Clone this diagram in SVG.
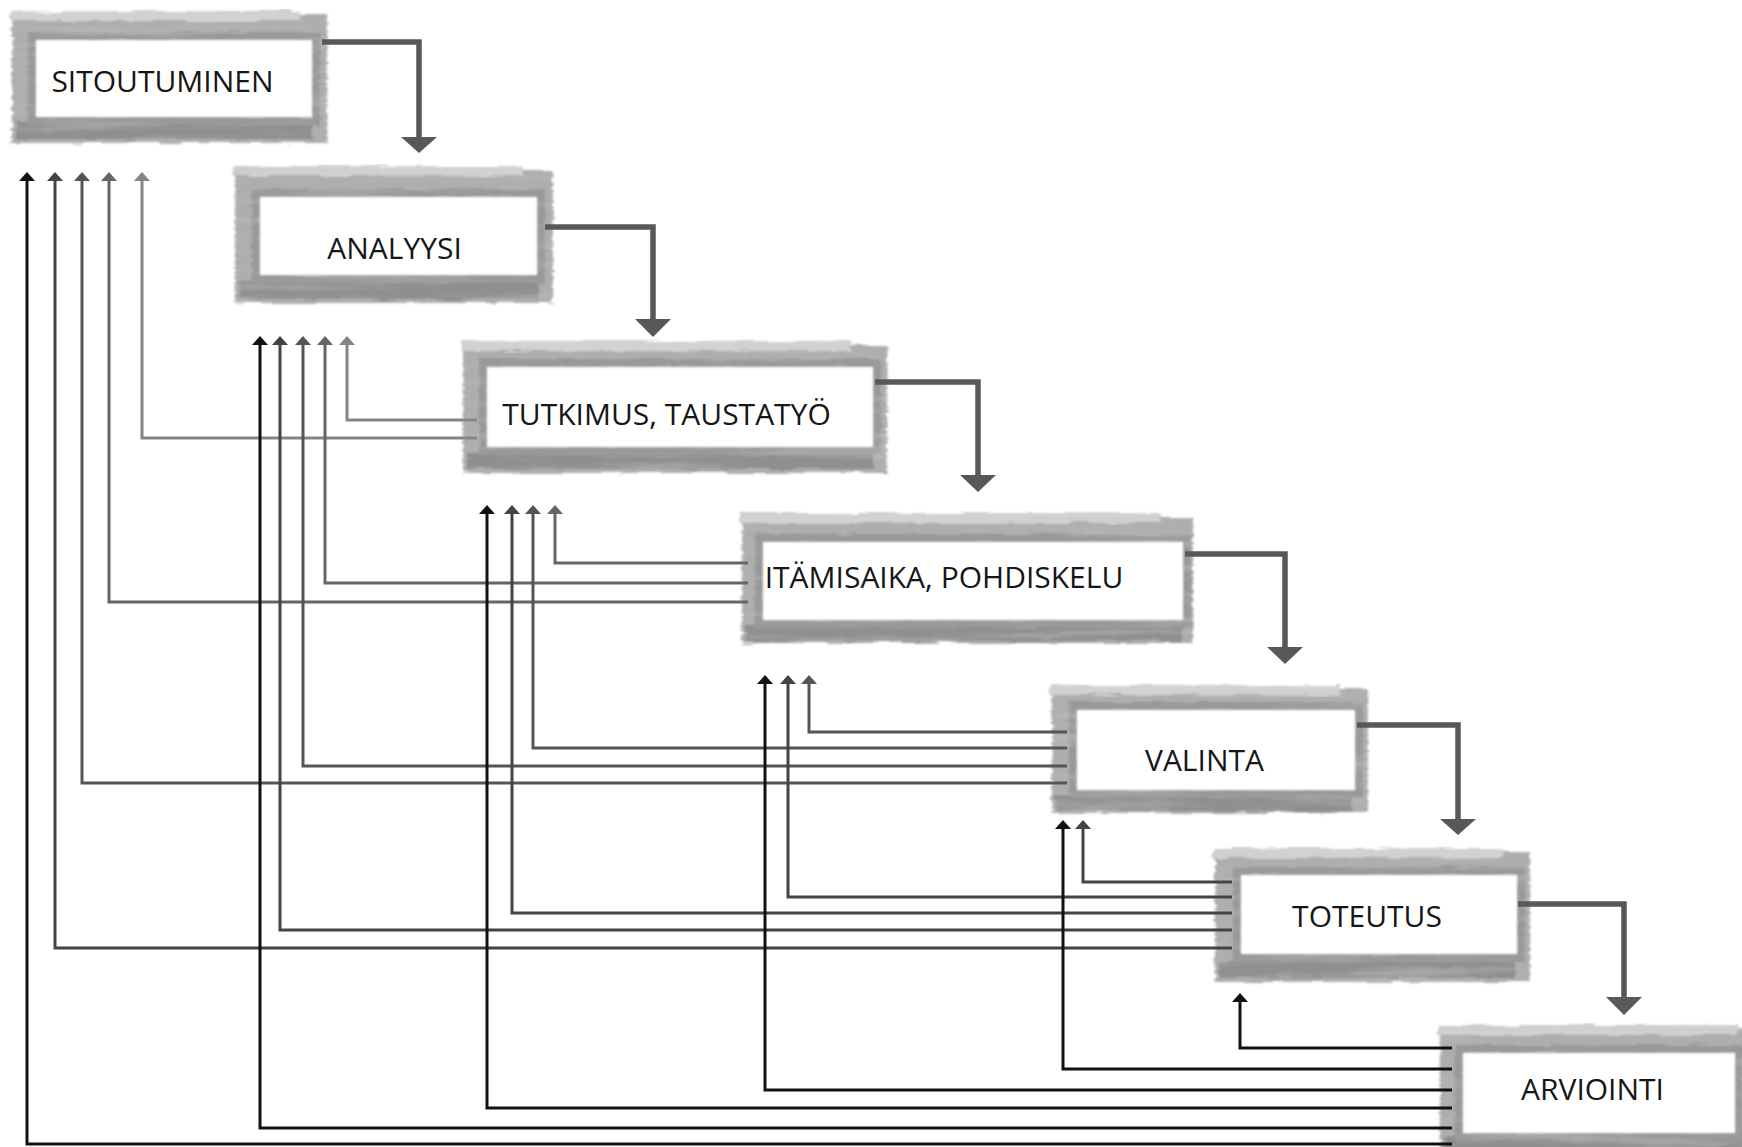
<svg xmlns="http://www.w3.org/2000/svg" width="1742" height="1147" viewBox="0 0 1742 1147">
  <style>
    .band { fill: #aeaeae; filter: url(#rough); }
    .hl { fill: #d2d2d2; filter: url(#rough); }
    .sh { fill: #8f8f8f; filter: url(#rough); }
    .ring { fill: none; stroke: #999999; stroke-width: 8; filter: url(#rough); }
    .inner { fill: #ffffff; filter: url(#soft); }
    .label { font-family: "Open Sans", "Noto Sans", "Liberation Sans", sans-serif; font-size: 30px; fill: #161616; text-anchor: middle; }
    .main { fill: none; stroke: #58585a; stroke-width: 5.5; stroke-linejoin: miter; }
    .head { fill: #58585a; }
    .fb { fill: none; stroke-width: 3; stroke-linejoin: miter; }
    .c1 { stroke: #111111; }
    .c2 { stroke: #444444; }
    .c3 { stroke: #555555; }
    .c4 { stroke: #666666; }
    .c5 { stroke: #858585; }
  </style>
  <defs>
    <filter id="rough" x="-4%" y="-20%" width="108%" height="140%">
      <feTurbulence type="fractalNoise" baseFrequency="0.004 0.12" numOctaves="3" seed="4" result="t"/>
      <feColorMatrix in="t" type="matrix" values="0 0 0 0 0.55  0 0 0 0 0.55  0 0 0 0 0.55  0 0 0 1.4 -0.7" result="dk"/>
      <feComposite in="dk" in2="SourceAlpha" operator="in" result="dkc"/>
      <feMerge result="m"><feMergeNode in="SourceGraphic"/><feMergeNode in="dkc"/></feMerge>
      <feTurbulence type="fractalNoise" baseFrequency="0.03 0.4" numOctaves="2" seed="9" result="e"/>
      <feDisplacementMap in="m" in2="e" scale="7" xChannelSelector="R" yChannelSelector="G" result="d"/>
      <feGaussianBlur in="d" stdDeviation="0.8"/>
    </filter>
    <filter id="soft" x="-5%" y="-10%" width="110%" height="120%">
      <feGaussianBlur stdDeviation="1.2"/>
    </filter>
    <marker id="m1" viewBox="0 0 9 16" refX="0" refY="8" markerWidth="9" markerHeight="16" markerUnits="userSpaceOnUse" orient="auto"><path d="M0,0 L9,8 L0,16 z" fill="#111111"/></marker>
    <marker id="m2" viewBox="0 0 9 16" refX="0" refY="8" markerWidth="9" markerHeight="16" markerUnits="userSpaceOnUse" orient="auto"><path d="M0,0 L9,8 L0,16 z" fill="#444444"/></marker>
    <marker id="m3" viewBox="0 0 9 16" refX="0" refY="8" markerWidth="9" markerHeight="16" markerUnits="userSpaceOnUse" orient="auto"><path d="M0,0 L9,8 L0,16 z" fill="#555555"/></marker>
    <marker id="m4" viewBox="0 0 9 16" refX="0" refY="8" markerWidth="9" markerHeight="16" markerUnits="userSpaceOnUse" orient="auto"><path d="M0,0 L9,8 L0,16 z" fill="#666666"/></marker>
    <marker id="m5" viewBox="0 0 9 16" refX="0" refY="8" markerWidth="9" markerHeight="16" markerUnits="userSpaceOnUse" orient="auto"><path d="M0,0 L9,8 L0,16 z" fill="#858585"/></marker>
  </defs>
  <rect width="1742" height="1147" fill="#ffffff"/>

  <g id="n1">
    <rect class="band" x="12" y="15" width="315" height="128"/>
    <rect class="hl" x="10" y="11" width="290" height="10"/>
    <rect class="sh" x="16" y="123" width="296" height="16"/>
    <rect class="ring" x="32" y="36" width="284" height="85"/>
    <rect class="inner" x="36" y="40" width="276" height="77"/>
    <text class="label" x="162.5" y="92">SITOUTUMINEN</text>
  </g>
  <g id="n2">
    <rect class="band" x="235" y="170" width="318" height="133"/>
    <rect class="hl" x="233" y="166" width="290" height="10"/>
    <rect class="sh" x="239" y="281" width="300" height="18"/>
    <rect class="ring" x="256" y="193" width="285" height="86"/>
    <rect class="inner" x="260" y="197" width="277" height="78"/>
    <text class="label" x="394.5" y="259">ANALYYSI</text>
  </g>
  <g id="n3">
    <rect class="band" x="463" y="345" width="424" height="128"/>
    <rect class="hl" x="461" y="341" width="390" height="10"/>
    <rect class="sh" x="467" y="453" width="406" height="16"/>
    <rect class="ring" x="483" y="363" width="394" height="88"/>
    <rect class="inner" x="487" y="367" width="386" height="80"/>
    <text class="label" x="666.5" y="425">TUTKIMUS, TAUSTATYÖ</text>
  </g>
  <g id="n4">
    <rect class="band" x="742" y="517" width="451" height="126"/>
    <rect class="hl" x="740" y="513" width="420" height="10"/>
    <rect class="sh" x="746" y="625" width="436" height="16"/>
    <rect class="ring" x="759" y="538" width="428" height="86"/>
    <rect class="inner" x="763" y="542" width="420" height="78"/>
    <text class="label" x="944" y="588">ITÄMISAIKA, POHDISKELU</text>
  </g>
  <g id="n5">
    <rect class="band" x="1052" y="689" width="316" height="124"/>
    <rect class="hl" x="1050" y="685" width="290" height="10"/>
    <rect class="sh" x="1056" y="795" width="296" height="16"/>
    <rect class="ring" x="1073" y="706" width="286" height="88"/>
    <rect class="inner" x="1077" y="710" width="278" height="80"/>
    <text class="label" x="1204.5" y="771">VALINTA</text>
  </g>
  <g id="n6">
    <rect class="band" x="1215" y="852" width="315" height="130"/>
    <rect class="hl" x="1213" y="848" width="290" height="10"/>
    <rect class="sh" x="1219" y="961" width="296" height="17"/>
    <rect class="ring" x="1237" y="871" width="284" height="87"/>
    <rect class="inner" x="1241" y="875" width="276" height="79"/>
    <text class="label" x="1367" y="927">TOTEUTUS</text>
  </g>
  <g id="n7">
    <rect class="band" x="1440" y="1029" width="320" height="140"/>
    <rect class="hl" x="1438" y="1025" width="300" height="10"/>
    <rect class="sh" x="1444" y="1137" width="300" height="18"/>
    <rect class="ring" x="1459" y="1049" width="280" height="88"/>
    <rect class="inner" x="1463" y="1053" width="272" height="80"/>
    <text class="label" x="1592.5" y="1100">ARVIOINTI</text>
  </g>

  <g id="connectors">
    <path class="main" d="M322,42 H419 V138"/>
    <polygon class="head" points="401,137 437,137 419,153"/>
    <path class="main" d="M545,227 H653 V320"/>
    <polygon class="head" points="635,319 671,319 653,337"/>
    <path class="main" d="M875,382 H978 V476"/>
    <polygon class="head" points="960,475 996,475 978,492"/>
    <path class="main" d="M1185,554 H1285 V648"/>
    <polygon class="head" points="1267,647 1303,647 1285,664"/>
    <path class="main" d="M1357,725 H1458 V820"/>
    <polygon class="head" points="1440,819 1476,819 1458,835"/>
    <path class="main" d="M1518,904 H1624 V998"/>
    <polygon class="head" points="1606,997 1642,997 1624,1015"/>

    <path class="fb c5" marker-end="url(#m5)" d="M477,420 H347 V345"/>
    <path class="fb c5" marker-end="url(#m5)" d="M477,438 H142 V181"/>

    <path class="fb c4" marker-end="url(#m4)" d="M748,563 H555 V514"/>
    <path class="fb c4" marker-end="url(#m4)" d="M748,583 H325 V345"/>
    <path class="fb c4" marker-end="url(#m4)" d="M748,602 H109 V181"/>

    <path class="fb c3" marker-end="url(#m3)" d="M1067,732 H809 V684"/>
    <path class="fb c3" marker-end="url(#m3)" d="M1067,748 H533 V514"/>
    <path class="fb c3" marker-end="url(#m3)" d="M1067,766 H303 V345"/>
    <path class="fb c3" marker-end="url(#m3)" d="M1067,783 H82 V181"/>

    <path class="fb c2" marker-end="url(#m2)" d="M1232,882 H1083 V829"/>
    <path class="fb c2" marker-end="url(#m2)" d="M1232,897 H788 V684"/>
    <path class="fb c2" marker-end="url(#m2)" d="M1232,913 H512 V514"/>
    <path class="fb c2" marker-end="url(#m2)" d="M1232,930 H280 V345"/>
    <path class="fb c2" marker-end="url(#m2)" d="M1232,948 H55 V181"/>

    <path class="fb c1" marker-end="url(#m1)" d="M1452,1048 H1240 V1002"/>
    <path class="fb c1" marker-end="url(#m1)" d="M1452,1069 H1063 V829"/>
    <path class="fb c1" marker-end="url(#m1)" d="M1452,1090 H765 V684"/>
    <path class="fb c1" marker-end="url(#m1)" d="M1452,1108 H487 V514"/>
    <path class="fb c1" marker-end="url(#m1)" d="M1452,1128 H260 V345"/>
    <path class="fb c1" marker-end="url(#m1)" d="M1452,1144 H27 V181"/>
  </g>
</svg>
